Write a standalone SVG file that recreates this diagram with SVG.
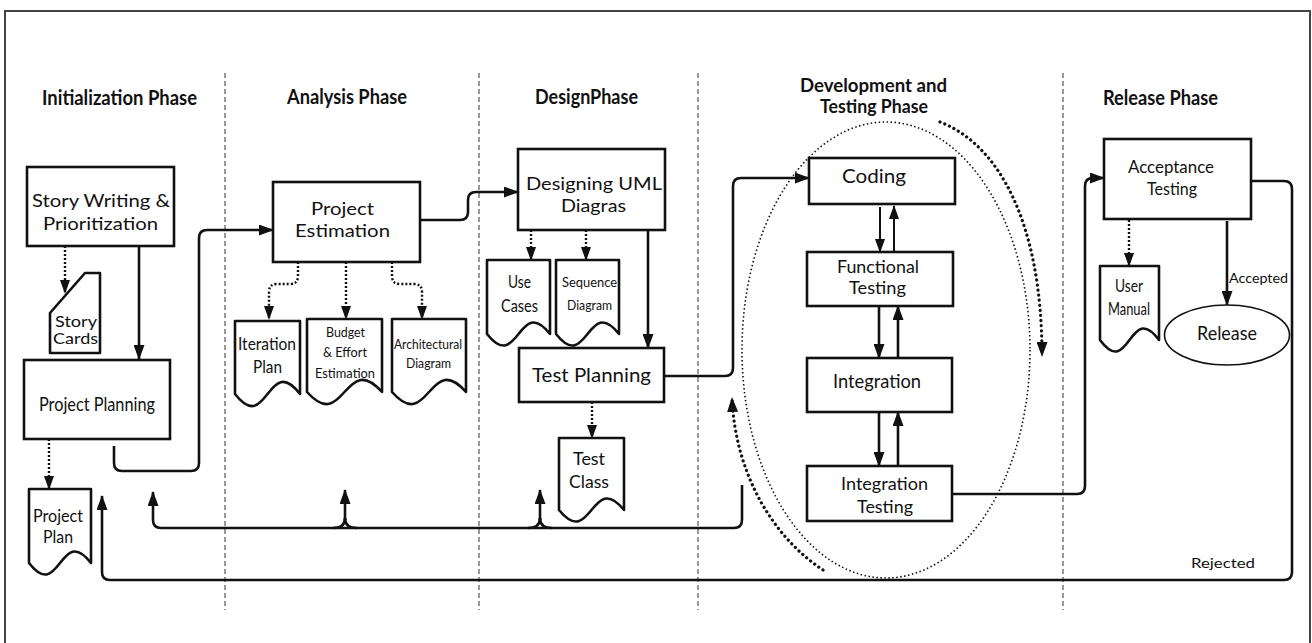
<svg xmlns="http://www.w3.org/2000/svg" width="1312" height="643" viewBox="0 0 1312 643">
<style>
text{font-family:Lato,"Open Sans","Liberation Sans",sans-serif;fill:#111;text-anchor:middle}
.h{font-weight:bold;font-size:20px}
.h2{font-weight:bold;font-size:18px}
.t{font-size:20px}
.t2{font-size:18px}
.m{font-size:17px}
.sc{font-size:15px}
.s{font-size:14px}
.box{fill:#fff;stroke:#111;stroke-width:2.6}
.doc{fill:#fff;stroke:#111;stroke-width:2.6;stroke-linejoin:round}
.sep{stroke:#333;stroke-width:1;stroke-dasharray:5 3;fill:none}
.c{fill:none;stroke:#111;stroke-width:2.6;marker-end:url(#ah)}
.cl{fill:none;stroke:#111;stroke-width:2.6}
.d{fill:none;stroke:#111;stroke-width:2.4;stroke-dasharray:2 2;marker-end:url(#ahs)}
.dv{fill:none;stroke:#111;stroke-width:2;marker-end:url(#ahs)}
.big{fill:none;stroke:#111;stroke-width:3.2;stroke-dasharray:0.1 5;stroke-linecap:round;marker-end:url(#ah)}
</style>
<defs>
<marker id="ah" markerUnits="userSpaceOnUse" viewBox="0 0 15 11" markerWidth="15" markerHeight="11" refX="14" refY="5.5" orient="auto"><path d="M0,0 L15,5.5 L0,11 z" fill="#111"/></marker>
<marker id="ahs" markerUnits="userSpaceOnUse" viewBox="0 0 14 10" markerWidth="14" markerHeight="10" refX="13" refY="5" orient="auto"><path d="M0,0 L14,5 L0,10 z" fill="#111"/></marker>
</defs>
<rect x="5" y="11" width="1305" height="645" fill="#fff" stroke="#444" stroke-width="2"/>
<g id="separators">
<line class="sep" x1="225" y1="73" x2="225" y2="610"/>
<line class="sep" x1="479" y1="73" x2="479" y2="610"/>
<line class="sep" x1="698" y1="73" x2="698" y2="610"/>
<line class="sep" x1="1063" y1="73" x2="1063" y2="610"/>
</g>
<g id="headings">
<text class="h" x="119.5" y="105" textLength="155" lengthAdjust="spacingAndGlyphs">Initialization Phase</text>
<text class="h" x="347" y="104" textLength="120" lengthAdjust="spacingAndGlyphs">Analysis Phase</text>
<text class="h" x="586.5" y="104" textLength="103" lengthAdjust="spacingAndGlyphs">DesignPhase</text>
<text class="h2" x="873.5" y="92" textLength="147" lengthAdjust="spacingAndGlyphs">Development and</text>
<text class="h2" x="874" y="113" textLength="108" lengthAdjust="spacingAndGlyphs">Testing Phase</text>
<text class="h" x="1160.5" y="105" textLength="115" lengthAdjust="spacingAndGlyphs">Release Phase</text>
</g>
<ellipse id="dev-cycle" cx="886" cy="350" rx="144" ry="228" fill="none" stroke="#111" stroke-width="1.6" stroke-dasharray="1.5 2.5"/>
<g id="connectors">
<path class="c" d="M139,246 V359"/>
<path class="d" d="M65,246 V293"/>
<path class="d" d="M49,439 V489"/>
<path class="c" d="M114,446 V463 Q114,471 122,471 H191 Q199,471 199,463 V238 Q199,230 207,230 H273"/>
<path class="d" d="M298,262 V276 Q298,284 290,284 H277 Q269,284 269,292 V319"/>
<path class="d" d="M346,262 V319"/>
<path class="d" d="M392,262 V276 Q392,284 400,284 H414 Q422,284 422,292 V319"/>
<path class="c" d="M420,220 H460 Q468,220 468,212 V200 Q468,192 476,192 H518"/>
<path class="d" d="M531,230 V260"/>
<path class="d" d="M586,230 V260"/>
<path class="c" d="M648,230 V348"/>
<path class="d" d="M592,402 V438"/>
<path class="c" d="M664,376 H725 Q733,376 733,368 V186 Q733,178 741,178 H809"/>
<path class="dv" d="M880,207 V252"/>
<path class="dv" d="M894,252 V206"/>
<path class="c" d="M879,306 V358"/>
<path class="c" d="M898,358 V306"/>
<path class="c" d="M879,412 V466"/>
<path class="c" d="M898,466 V412"/>
<path class="c" d="M952,494 H1077 Q1085,494 1085,486 V186 Q1085,178 1093,178 H1104"/>
<path class="d" d="M1129,220 V266"/>
<path class="c" d="M1227,221 V305"/>
<path class="c" d="M1251,181 H1284 Q1292,181 1292,189 V572 Q1292,580 1284,580 H110 Q102,580 102,572 V496"/>
<path class="c" d="M742,485 V520 Q742,528 734,528 H161 Q153,528 153,520 V492"/>
<path class="cl" d="M333,528 Q345,528 345,518"/>
<path class="cl" d="M357,528 Q345,528 345,518"/>
<path class="c" d="M345,520 V490"/>
<path class="cl" d="M528,528 Q540,528 540,518"/>
<path class="cl" d="M552,528 Q540,528 540,518"/>
<path class="c" d="M540,520 V490"/>
<path class="big" d="M940,122 C1000,145 1042,225 1042,356"/>
<path class="big" d="M823,570 C770,535 735,470 732,398"/>
</g>
<g id="story-writing">
<rect class="box" x="27" y="167" width="147" height="79"/>
<text class="t2" x="101" y="207" textLength="138" lengthAdjust="spacingAndGlyphs">Story Writing &amp;</text>
<text class="t2" x="100.5" y="230" textLength="115" lengthAdjust="spacingAndGlyphs">Prioritization</text>
</g>
<g id="story-cards">
<path class="doc" d="M50,313 L85,273 H100 V353 H50 Z"/>
<text class="sc" x="76" y="327" textLength="42" lengthAdjust="spacingAndGlyphs">Story</text>
<text class="sc" x="75.5" y="344" textLength="45" lengthAdjust="spacingAndGlyphs">Cards</text>
</g>
<g id="project-planning">
<rect class="box" x="24" y="360" width="146" height="79"/>
<text class="t" x="97" y="411" textLength="116" lengthAdjust="spacingAndGlyphs">Project Planning</text>
</g>
<g id="project-plan">
<path class="doc" d="M29,489 H91 V563 C60,523 60,603 29,563 Z"/>
<text class="m" x="58" y="522" textLength="50" lengthAdjust="spacingAndGlyphs">Project</text>
<text class="m" x="58" y="543" textLength="30" lengthAdjust="spacingAndGlyphs">Plan</text>
</g>
<g id="project-estimation">
<rect class="box" x="273" y="182" width="147" height="80"/>
<text class="t2" x="342.5" y="215" textLength="63" lengthAdjust="spacingAndGlyphs">Project</text>
<text class="t2" x="342.5" y="237" textLength="95" lengthAdjust="spacingAndGlyphs">Estimation</text>
</g>
<g id="iteration-plan">
<path class="doc" d="M235,321 H300 V394 C267.5,352 267.5,436 235,394 Z"/>
<text class="t2" x="267" y="350" textLength="58" lengthAdjust="spacingAndGlyphs">Iteration</text>
<text class="t2" x="267.5" y="373" textLength="29" lengthAdjust="spacingAndGlyphs">Plan</text>
</g>
<g id="budget">
<path class="doc" d="M307,319 H382 V392 C344.5,350 344.5,434 307,392 Z"/>
<text class="s" x="345.5" y="337" textLength="39" lengthAdjust="spacingAndGlyphs">Budget</text>
<text class="s" x="345" y="357" textLength="44" lengthAdjust="spacingAndGlyphs">&amp; Effort</text>
<text class="s" x="345" y="378" textLength="60" lengthAdjust="spacingAndGlyphs">Estimation</text>
</g>
<g id="architectural">
<path class="doc" d="M392,319 H466 V392 C429,350 429,434 392,392 Z"/>
<text class="s" x="428" y="349" textLength="68" lengthAdjust="spacingAndGlyphs">Architectural</text>
<text class="s" x="428.5" y="368" textLength="45" lengthAdjust="spacingAndGlyphs">Diagram</text>
</g>
<g id="designing-uml">
<rect class="box" x="518" y="149" width="147" height="81"/>
<text class="t2" x="594" y="190" textLength="136" lengthAdjust="spacingAndGlyphs">Designing UML</text>
<text class="t2" x="593.5" y="212" textLength="65" lengthAdjust="spacingAndGlyphs">Diagras</text>
</g>
<g id="use-cases">
<path class="doc" d="M487,260 H550 V334 C518.5,294 518.5,374 487,334 Z"/>
<text class="m" x="519.5" y="288" textLength="23" lengthAdjust="spacingAndGlyphs">Use</text>
<text class="m" x="519.5" y="312" textLength="37" lengthAdjust="spacingAndGlyphs">Cases</text>
</g>
<g id="sequence-diagram">
<path class="doc" d="M556,260 H619 V334 C587.5,294 587.5,374 556,334 Z"/>
<text class="s" x="589.5" y="287" textLength="55" lengthAdjust="spacingAndGlyphs">Sequence</text>
<text class="s" x="589.5" y="310" textLength="45" lengthAdjust="spacingAndGlyphs">Diagram</text>
</g>
<g id="test-planning">
<rect class="box" x="519" y="348" width="145" height="54"/>
<text class="t" x="591.5" y="382" textLength="119" lengthAdjust="spacingAndGlyphs">Test Planning</text>
</g>
<g id="test-class">
<path class="doc" d="M559,438 H624 V510 C591.5,470 591.5,550 559,510 Z"/>
<text class="m" x="589" y="465" textLength="32" lengthAdjust="spacingAndGlyphs">Test</text>
<text class="m" x="589" y="488" textLength="40" lengthAdjust="spacingAndGlyphs">Class</text>
</g>
<g id="coding">
<rect class="box" x="809" y="158" width="146" height="46"/>
<text class="t" x="874" y="183" textLength="64" lengthAdjust="spacingAndGlyphs">Coding</text>
</g>
<g id="functional-testing">
<rect class="box" x="807" y="252" width="146" height="54"/>
<text class="t2" x="878" y="273" textLength="82" lengthAdjust="spacingAndGlyphs">Functional</text>
<text class="t2" x="877.5" y="294" textLength="57" lengthAdjust="spacingAndGlyphs">Testing</text>
</g>
<g id="integration">
<rect class="box" x="807" y="358" width="145" height="54"/>
<text class="t" x="877" y="388" textLength="88" lengthAdjust="spacingAndGlyphs">Integration</text>
</g>
<g id="integration-testing">
<rect class="box" x="807" y="466" width="145" height="55"/>
<text class="t2" x="884.5" y="490" textLength="87" lengthAdjust="spacingAndGlyphs">Integration</text>
<text class="t2" x="885" y="513" textLength="56" lengthAdjust="spacingAndGlyphs">Testing</text>
</g>
<g id="acceptance-testing">
<rect class="box" x="1104" y="139" width="147" height="80"/>
<text class="t2" x="1171" y="173" textLength="86" lengthAdjust="spacingAndGlyphs">Acceptance</text>
<text class="t2" x="1172" y="195" textLength="50" lengthAdjust="spacingAndGlyphs">Testing</text>
</g>
<g id="user-manual">
<path class="doc" d="M1100,266 H1159 V340 C1129.5,300 1129.5,380 1100,340 Z"/>
<text class="m" x="1129" y="292" textLength="28" lengthAdjust="spacingAndGlyphs">User</text>
<text class="m" x="1129" y="315" textLength="42" lengthAdjust="spacingAndGlyphs">Manual</text>
</g>
<g id="release">
<ellipse cx="1227" cy="335" rx="62.5" ry="30" fill="#fff" stroke="#111" stroke-width="1.6"/>
<text class="t" x="1227" y="340" textLength="60" lengthAdjust="spacingAndGlyphs">Release</text>
</g>
<g id="labels">
<text class="s" x="1258.5" y="283" textLength="59" lengthAdjust="spacingAndGlyphs">Accepted</text>
<text class="s" x="1223" y="568" textLength="64" lengthAdjust="spacingAndGlyphs">Rejected</text>
</g>
</svg>
